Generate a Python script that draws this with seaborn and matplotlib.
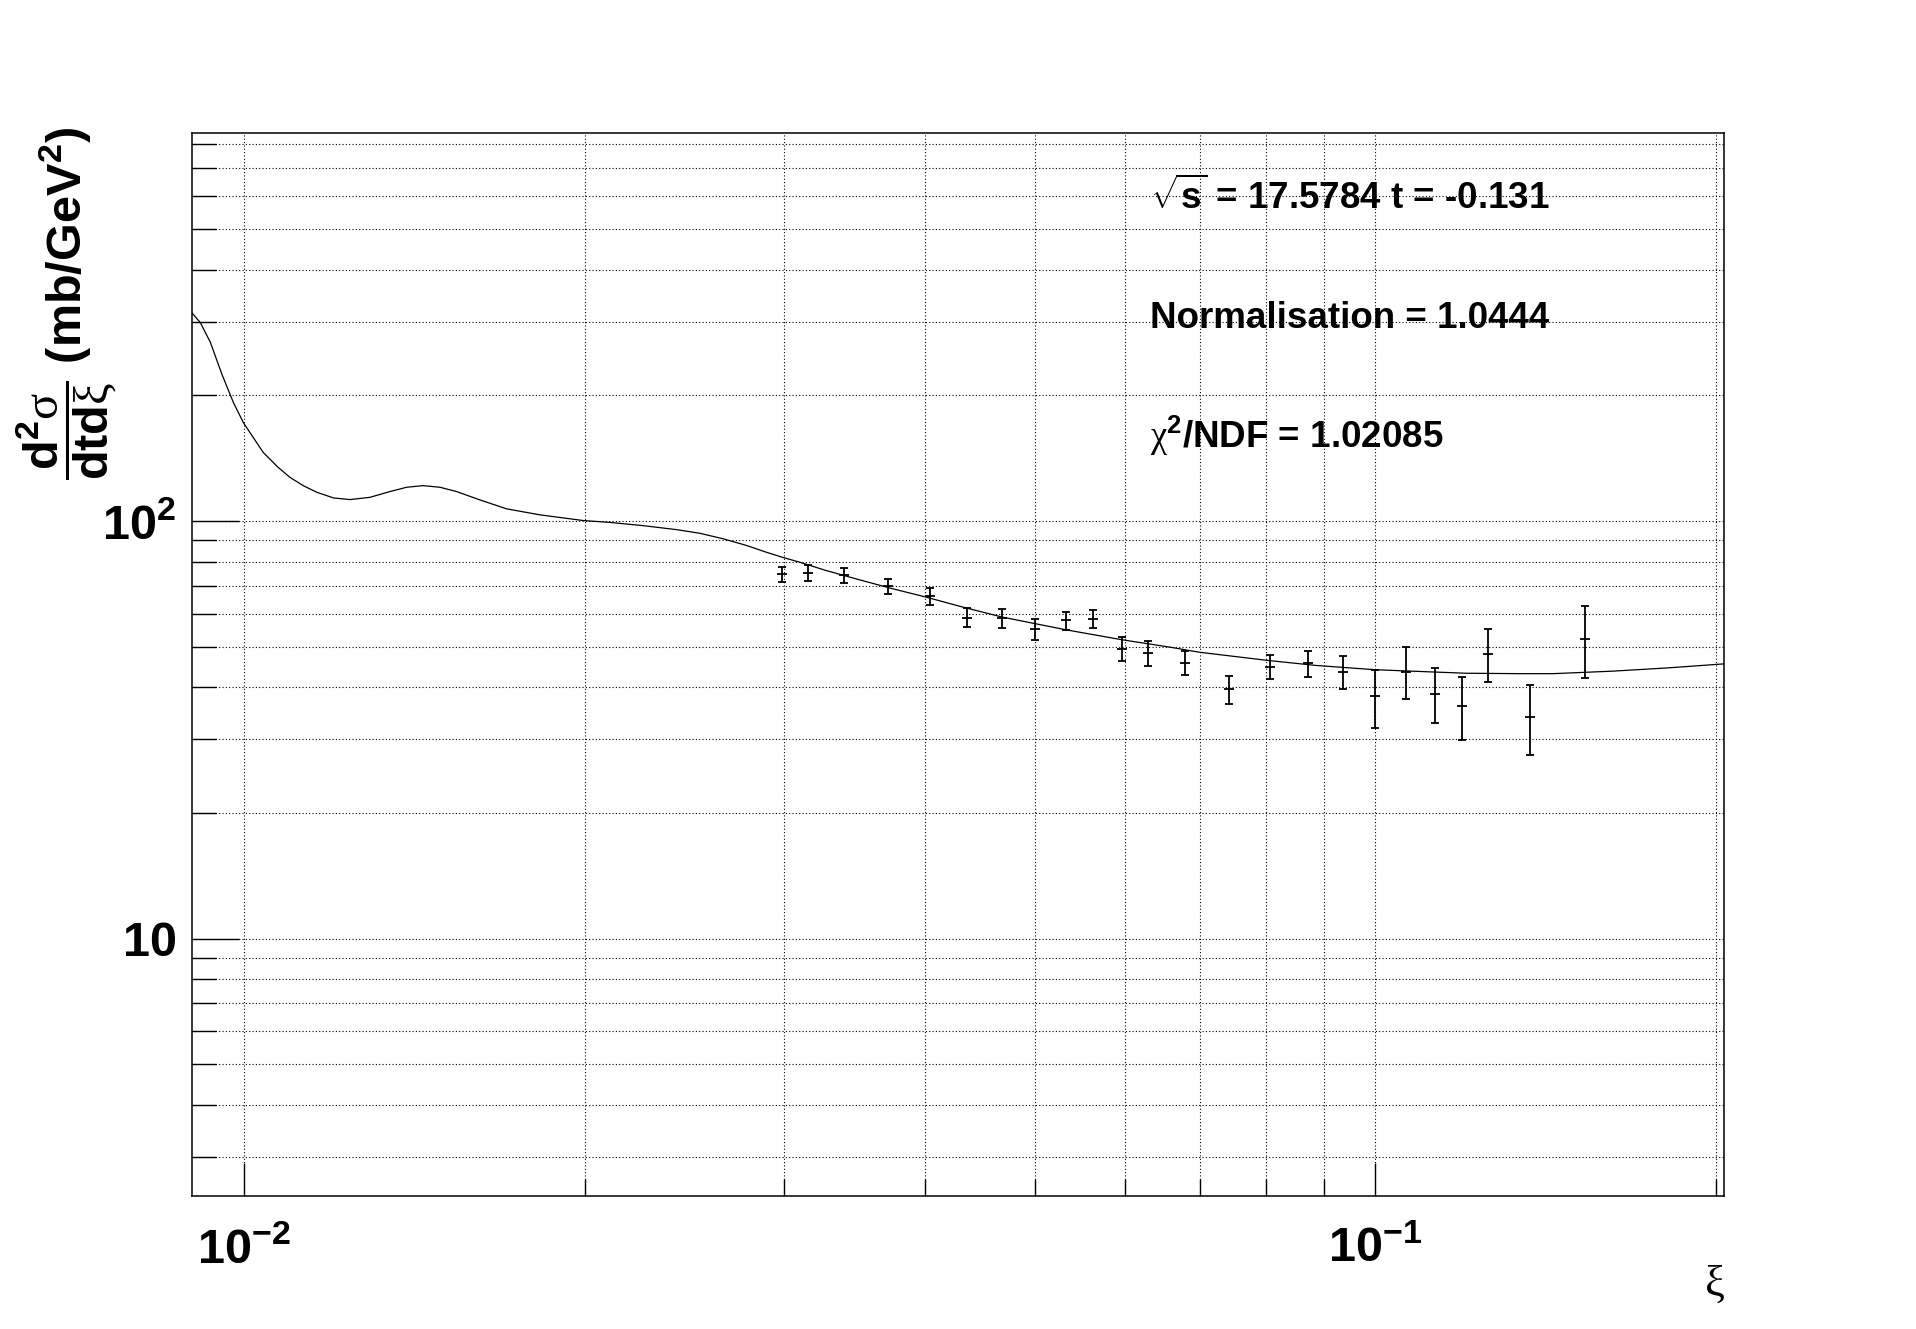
import numpy as np
import pandas as pd
import matplotlib
matplotlib.use("Agg")
import matplotlib.pyplot as plt
import matplotlib.ticker as mticker
import seaborn as sns

# fitted curve
curve_xi = [0.00898, 0.00914, 0.00933, 0.00955, 0.00978, 0.00998, 0.01039, 0.01071,
            0.01097, 0.01127, 0.01159, 0.01199, 0.0124, 0.01291, 0.01345, 0.01391,
            0.01439, 0.01489, 0.0154, 0.01615, 0.01705, 0.01825, 0.01993, 0.02103,
            0.02252, 0.0241, 0.02527, 0.0265, 0.0278, 0.02894, 0.0299, 0.03097,
            0.0327, 0.035, 0.03746, 0.0401, 0.0429, 0.04676, 0.05325, 0.0597,
            0.06577, 0.0699, 0.0801, 0.0886, 0.0999, 0.1125, 0.1203, 0.1341,
            0.1435, 0.1621, 0.1815, 0.2035]
curve_val = [316, 299, 268, 225, 192, 172, 146, 134.5,
             127.3, 121.6, 117.2, 113.6, 112.6, 114, 117.7, 120.5,
             121.6, 120.5, 117.7, 112.4, 107, 103.5, 100.3, 99.3,
             97.5, 95.4, 93.5, 90.7, 87.4, 84.2, 81.9, 79.7,
             76.1, 72.3, 68.8, 65.7, 62.5, 58.9, 54.9, 51.96,
             49.9, 48.5, 46.4, 45.1, 44.05, 43.5, 43.2, 43.1,
             43.1, 43.7, 44.5, 45.5]

# measured points
data_xi = [0.0299, 0.0315, 0.0339, 0.0371, 0.0404, 0.0435, 0.0468, 0.0500,
           0.0533, 0.0563, 0.0597, 0.0629, 0.0678, 0.0742, 0.0807, 0.0872,
           0.0937, 0.0999, 0.1064, 0.1128, 0.1192, 0.1257, 0.1369, 0.1532]
data_val = [74.5, 75.2, 74.1, 69.8, 66.0, 58.7, 58.5, 55.1,
            57.8, 58.3, 49.5, 48.3, 45.8, 39.5, 44.8, 45.6,
            43.6, 38.0, 43.6, 38.6, 36.1, 48.1, 34.0, 52.3]
data_err = [3.0, 3.3, 2.9, 2.9, 3.1, 3.1, 3.0, 3.2,
            2.9, 3.0, 3.2, 3.3, 3.0, 3.1, 3.0, 3.3,
            4.0, 6.0, 6.2, 5.8, 6.2, 7.0, 6.5, 10.3]

x_major = [0.01, 0.1]
x_major_labels = [r"$\mathbf{10^{-2}}$", r"$\mathbf{10^{-1}}$"]
x_minor = [0.02, 0.03, 0.04, 0.05, 0.06, 0.07, 0.08, 0.09, 0.2]
y_major = [10, 100]
y_major_labels = [r"$\mathbf{10}$", r"$\mathbf{10^{2}}$"]
y_minor = [3, 4, 5, 6, 7, 8, 9, 20, 30, 40, 50, 60, 70, 80, 90,
           200, 300, 400, 500, 600, 700, 800]

info_lines = [r"$\sqrt{\mathbf{s}}$ = 17.5784 t = -0.131",
              "Normalisation = 1.0444",
              r"$\mathsf{\chi}^{\mathbf{2}}$/NDF = 1.02085"]

sns.set_style("white")
plt.rcParams["font.family"] = ["Liberation Sans", "DejaVu Sans"]
plt.rcParams["mathtext.fontset"] = "custom"
plt.rcParams["mathtext.rm"] = "Liberation Sans:bold"
plt.rcParams["mathtext.it"] = "Liberation Sans:bold"
plt.rcParams["mathtext.bf"] = "Liberation Sans:bold"
plt.rcParams["mathtext.sf"] = "Liberation Serif"
plt.rcParams["text.color"] = "black"
plt.rcParams["xtick.color"] = "black"
plt.rcParams["ytick.color"] = "black"
plt.rcParams["axes.labelcolor"] = "black"

fig = plt.figure(figsize=(19.16, 13.29), dpi=100)
fig.patch.set_facecolor("white")
ax = fig.add_axes([0.1, 0.1, 0.8, 0.8])
ax.set_facecolor("white")

curve = pd.DataFrame({"xi": curve_xi, "val": curve_val})
sns.lineplot(data=curve, x="xi", y="val", ax=ax, color="black", linewidth=0.9,
             sort=False, estimator=None, zorder=3)

ax.errorbar(data_xi, data_val, yerr=data_err, fmt="_", color="black",
            markersize=7, elinewidth=1.3, capsize=3, capthick=1.3,
            markeredgewidth=1.3, zorder=4)

ax.set_xscale("log")
ax.set_yscale("log")
ax.set_xlim(0.00898, 0.2035)
ax.set_ylim(2.415, 851)

ax.xaxis.set_major_locator(mticker.FixedLocator(x_major))
ax.xaxis.set_major_formatter(mticker.FixedFormatter(x_major_labels))
ax.xaxis.set_minor_locator(mticker.FixedLocator(x_minor))
ax.xaxis.set_minor_formatter(mticker.NullFormatter())
ax.yaxis.set_major_locator(mticker.FixedLocator(y_major))
ax.yaxis.set_major_formatter(mticker.FixedFormatter(y_major_labels))
ax.yaxis.set_minor_locator(mticker.FixedLocator(y_minor))
ax.yaxis.set_minor_formatter(mticker.NullFormatter())

ax.grid(which="both", color="black", linestyle=(0, (1, 2)), linewidth=0.8)
ax.set_axisbelow(True)

ax.tick_params(axis="both", which="both", direction="in", color="black",
               bottom=True, left=True, top=False, right=False,
               width=1.0, labelsize=35, labelcolor="black")
ax.tick_params(axis="y", which="major", length=34, pad=11)
ax.tick_params(axis="y", which="minor", length=17)
ax.tick_params(axis="x", which="major", length=24, pad=22)
ax.tick_params(axis="x", which="minor", length=12)
for sp in ax.spines.values():
    sp.set_color("black")
    sp.set_linewidth(1.1)

ax.set_xlabel("")
ax.set_ylabel("")

# axis titles, ROOT style
fig.text(0.9, 0.033, "ξ", family="Liberation Serif", fontsize=32,
         ha="right", va="center", color="black")
fig.text(0.035, 0.905,
         r"$\dfrac{\mathbf{d^{2}}\mathsf{\sigma}}{\mathbf{dtd}\mathsf{\xi}}$ (mb/GeV$^{\mathbf{2}}$)",
         rotation=90, ha="center", va="top", fontsize=35, fontweight="bold",
         color="black")

# fit info
ys = [0.843, 0.753, 0.663]
for txt, yy in zip(info_lines, ys):
    fig.text(0.6, yy, txt, fontsize=26.5, fontweight="bold", ha="left",
             va="baseline", color="black")

fig.savefig("out.png", dpi=100, facecolor="white")
